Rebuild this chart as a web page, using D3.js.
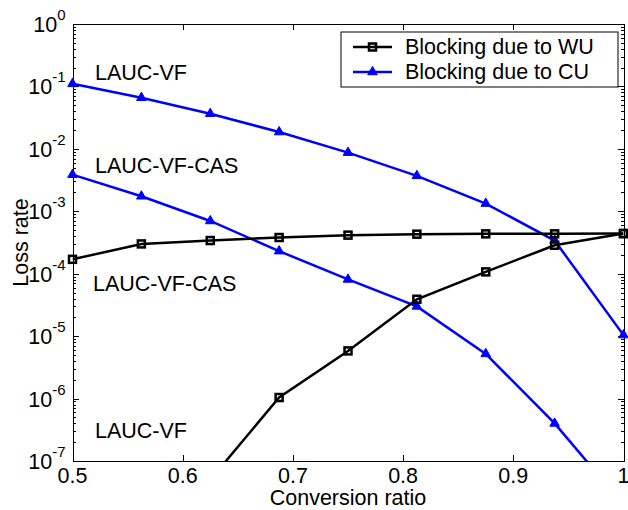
<!DOCTYPE html>
<html>
<head>
<meta charset="utf-8">
<script src="https://cdn.jsdelivr.net/npm/d3@7"></script>
<style>
  body { margin: 0; background: #fff; }
  svg text { font-family: "Liberation Sans", Arial, sans-serif; fill: #000; }
  .axis path, .axis line { stroke: #000; stroke-width: 1; shape-rendering: crispEdges; }
</style>
</head>
<body>
<div id="chart"></div>
<script>
// datos
const ratio = [0.5, 0.5625, 0.625, 0.6875, 0.75, 0.8125, 0.875, 0.9375, 1.0]
const cuVF = [0.11, 0.066, 0.0366, 0.0186, 0.0087, 0.0037, 0.00133, 0.00034, 1.04e-5]
const cuCAS = [0.00386, 0.00174, 0.0007, 0.00023, 8.1e-5, 3.0e-5, 5.2e-6, 4.0e-7, 2.0e-8]
const wuCAS = [1.7e-4, 3.0e-4, 3.4e-4, 3.8e-4, 4.15e-4, 4.3e-4, 4.35e-4, 4.35e-4, 4.4e-4]
const wuVF = [null, null, 5e-8, 1.04e-6, 5.8e-6, 3.9e-5, 1.07e-4, 2.86e-4, 4.4e-4]
const xTicks = [0.5, 0.6, 0.7, 0.8, 0.9, 1]
const yExps = [0, -1, -2, -3, -4, -5, -6, -7]
const legendLabels = ["Blocking due to WU", "Blocking due to CU"]

// constantes
const width = 628
const height = 510
const margin = { top: 24, right: 4.5, bottom: 49, left: 72.5 }
const innerW = width - margin.left - margin.right
const innerH = height - margin.top - margin.bottom
const fs = "21.5px"

const svg = d3.select("div#chart")
    .append("svg")
    .attr("width", width)
    .attr("height", height)

const g = svg.append("g")
    .attr("transform", `translate(${margin.left},${margin.top})`)

// escalas
const x = d3.scaleLinear().domain([0.5, 1]).range([0, innerW])
const y = d3.scaleLog().domain([1e-7, 1]).range([innerH, 0])

const majors = yExps.map(e => Math.pow(10, e))
const minors = []
for (let e = -7; e < 0; e++) {
    for (let m = 2; m <= 9; m++) minors.push(m * Math.pow(10, e))
}

// ejes (ticks hacia dentro, en las cuatro caras)
g.append("g").attr("class", "axis")
    .call(d3.axisLeft(y).tickValues(majors).tickSize(-6).tickSizeOuter(0).tickFormat(""))
g.append("g").attr("class", "axis")
    .call(d3.axisLeft(y).tickValues(minors).tickSize(-3).tickSizeOuter(0).tickFormat(""))
g.append("g").attr("class", "axis")
    .attr("transform", `translate(${innerW},0)`)
    .call(d3.axisRight(y).tickValues(majors).tickSize(-6).tickSizeOuter(0).tickFormat(""))
g.append("g").attr("class", "axis")
    .attr("transform", `translate(${innerW},0)`)
    .call(d3.axisRight(y).tickValues(minors).tickSize(-3).tickSizeOuter(0).tickFormat(""))
g.append("g").attr("class", "axis")
    .attr("transform", `translate(0,${innerH})`)
    .call(d3.axisBottom(x).tickValues(xTicks).tickSize(-6).tickSizeOuter(0).tickFormat(""))
g.append("g").attr("class", "axis")
    .call(d3.axisTop(x).tickValues(xTicks).tickSize(-6).tickSizeOuter(0).tickFormat(""))
g.selectAll(".axis .domain").attr("stroke-width", 1.5)

// etiquetas de los ejes
g.selectAll("text.xlab").data(xTicks).enter()
    .append("text")
    .attr("class", "xlab")
    .attr("x", d => x(d))
    .attr("y", innerH + 22)
    .attr("text-anchor", "middle")
    .style("font-size", fs)
    .text(d => d3.format("")(d))

const yl = g.selectAll("text.ylab").data(yExps).enter()
    .append("text")
    .attr("class", "ylab")
    .attr("x", -7)
    .attr("y", d => y(Math.pow(10, d)) + 8)
    .attr("text-anchor", "end")
yl.append("tspan").style("font-size", fs).text("10")
yl.append("tspan").style("font-size", "15px").attr("dy", -12).text(d => d === 0 ? "0" : "-" + Math.abs(d))

svg.append("text")
    .attr("x", margin.left + innerW / 2)
    .attr("y", 505)
    .attr("text-anchor", "middle")
    .style("font-size", fs)
    .text("Conversion ratio")

svg.append("text")
    .attr("transform", `translate(28,${margin.top + innerH / 2}) rotate(-90)`)
    .attr("text-anchor", "middle")
    .style("font-size", fs)
    .text("Loss rate")

// líneas
g.append("clipPath").attr("id", "clip")
    .append("rect").attr("width", innerW).attr("height", innerH)

const series = [
    { values: cuVF, color: "#0000ff", width: 2.5, marker: "tri" },
    { values: cuCAS, color: "#0000ff", width: 2.5, marker: "tri" },
    { values: wuCAS, color: "#000", width: 2.5, marker: "sq" },
    { values: wuVF, color: "#000", width: 2.5, marker: "sq" }
]

const line = d3.line()
    .defined(d => d[1] !== null)
    .x(d => x(d[0]))
    .y(d => y(d[1]))

const plot = g.append("g").attr("clip-path", "url(#clip)")
const triangle = d3.symbol().type(d3.symbolTriangle).size(40)

function drawMarker(sel, s) {
    if (s.marker === "sq") {
        sel.append("rect")
            .attr("x", -3.5).attr("y", -3.5)
            .attr("width", 7).attr("height", 7)
            .attr("fill", "none")
            .attr("stroke", s.color)
            .attr("stroke-width", 2.5)
    } else {
        sel.append("path")
            .attr("d", triangle())
            .attr("fill", s.color)
            .attr("stroke", s.color)
            .attr("stroke-width", 1)
    }
}

series.forEach(s => {
    const pts = ratio.map((r, i) => [r, s.values[i]])
    plot.append("path")
        .datum(pts)
        .attr("fill", "none")
        .attr("stroke", s.color)
        .attr("stroke-width", s.width)
        .attr("d", line)
    const visible = pts.filter(d => d[1] !== null && d[1] >= 1e-7)
    const m = g.selectAll(null).data(visible).enter()
        .append("g")
        .attr("transform", d => `translate(${x(d[0])},${y(d[1])})`)
    drawMarker(m, s)
})

// anotaciones
const notes = [
    { text: "LAUC-VF", x: 95, y: 80 },
    { text: "LAUC-VF-CAS", x: 95, y: 173 },
    { text: "LAUC-VF-CAS", x: 93, y: 291 },
    { text: "LAUC-VF", x: 95, y: 438 }
]
svg.selectAll("text.note").data(notes).enter()
    .append("text")
    .attr("class", "note")
    .attr("x", d => d.x)
    .attr("y", d => d.y)
    .style("font-size", fs)
    .text(d => d.text)

// leyenda
const legend = svg.append("g").attr("transform", "translate(341,32)")
legend.append("rect")
    .attr("width", 277).attr("height", 55)
    .attr("fill", "#fff").attr("stroke", "#000").attr("stroke-width", 1)
const legendSeries = [series[2], series[0]]
legendSeries.forEach((s, i) => {
    const row = legend.append("g").attr("transform", `translate(0,${15 + i * 25})`)
    row.append("line")
        .attr("x1", 12).attr("x2", 51)
        .attr("stroke", s.color).attr("stroke-width", s.width)
    drawMarker(row.append("g").attr("transform", "translate(31.5,0)"), s)
    row.append("text")
        .attr("x", 64).attr("y", 7)
        .style("font-size", fs)
        .text(legendLabels[i])
})
</script>
</body>
</html>
